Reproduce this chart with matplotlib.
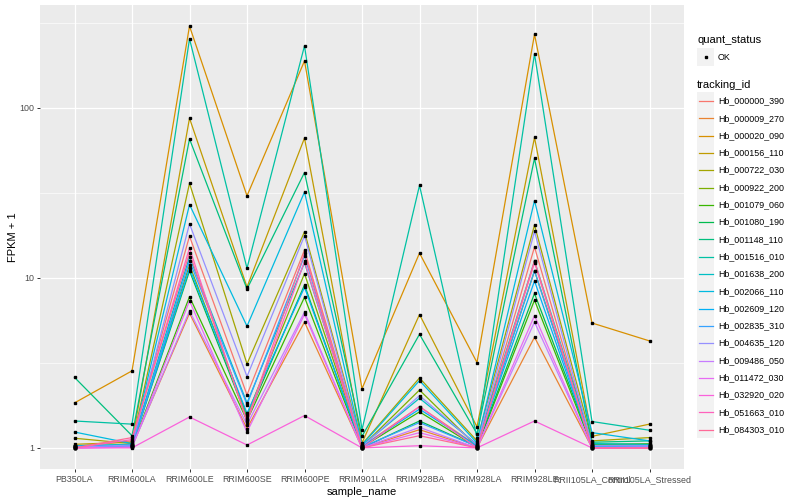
import matplotlib
matplotlib.use("Agg")
import matplotlib.pyplot as plt
import numpy as np
from matplotlib.patches import Rectangle
from matplotlib.lines import Line2D
from matplotlib.ticker import FixedLocator, NullFormatter

plt.rcParams['font.family'] = ['Liberation Sans', 'DejaVu Sans']

sample_names = ["PB350LA", "RRIM600LA", "RRIM600LE", "RRIM600SE", "RRIM600PE",
                "RRIM901LA", "RRIM928BA", "RRIM928LA", "RRIM928LE",
                "RRII105LA_Control", "RRII105LA_Stressed"]

tracking_ids = ["Hb_000000_390", "Hb_000009_270", "Hb_000020_090", "Hb_000156_110",
                "Hb_000722_030", "Hb_000922_200", "Hb_001079_060", "Hb_001080_190",
                "Hb_001148_110", "Hb_001516_010", "Hb_001638_200", "Hb_002066_110",
                "Hb_002609_120", "Hb_002835_310", "Hb_004635_120", "Hb_009486_050",
                "Hb_011472_030", "Hb_032920_020", "Hb_051663_010", "Hb_084303_010"]

# FPKM + 1, one row per tracking_id, columns follow sample_names
fpkm = [
    [1.02, 1.10, 17.6, 2.05, 14.6, 1.02, 1.75, 1.03, 15.2, 1.03, 1.02],
    [1.00, 1.02, 6.2, 1.30, 5.5, 1.00, 1.28, 1.00, 4.48, 1.00, 1.00],
    [1.84, 2.84, 303, 30.4, 189, 2.23, 14.0, 3.18, 271, 5.43, 4.26],
    [1.05, 1.08, 87, 8.84, 66.5, 1.07, 6.09, 1.33, 67, 1.17, 1.38],
    [1.14, 1.06, 36, 3.12, 18.7, 1.05, 2.58, 1.10, 20.5, 1.10, 1.15],
    [1.03, 1.04, 11.9, 1.56, 10.6, 1.02, 2.19, 1.02, 11.0, 1.05, 1.06],
    [1.01, 1.02, 7.75, 1.45, 7.7, 1.01, 1.63, 1.01, 7.4, 1.02, 1.03],
    [1.02, 1.03, 11.0, 1.50, 9.1, 1.00, 1.44, 1.02, 8.1, 1.04, 1.04],
    [2.60, 1.18, 65.7, 8.6, 41.7, 1.17, 4.66, 1.21, 50.5, 1.08, 1.10],
    [1.44, 1.38, 255, 11.4, 232, 1.28, 35, 1.15, 208, 1.43, 1.27],
    [1.03, 1.05, 13.3, 1.84, 12.3, 1.03, 1.96, 1.05, 12.6, 1.06, 1.05],
    [1.24, 1.06, 27, 5.2, 32, 1.04, 2.49, 1.07, 28.5, 1.23, 1.10],
    [1.03, 1.03, 11.4, 1.60, 8.8, 1.02, 1.69, 1.03, 9.6, 1.02, 1.02],
    [1.02, 1.02, 12.6, 1.80, 13.5, 1.01, 1.41, 1.02, 11.0, 1.01, 1.02],
    [1.01, 1.04, 20.8, 2.63, 17.7, 1.02, 2.03, 1.04, 18.8, 1.03, 1.03],
    [1.00, 1.01, 6.4, 1.37, 6.3, 1.00, 1.32, 1.00, 5.5, 1.00, 1.01],
    [1.00, 1.01, 7.33, 1.24, 6.1, 1.00, 1.23, 1.00, 6.0, 1.00, 1.00],
    [1.00, 1.00, 1.52, 1.04, 1.55, 1.00, 1.03, 1.00, 1.44, 1.00, 1.00],
    [1.00, 1.12, 15.0, 1.42, 12.5, 1.00, 1.75, 1.00, 12.3, 1.00, 1.00],
    [1.00, 1.15, 14.0, 1.45, 14.0, 1.00, 1.18, 1.00, 12.6, 1.00, 1.00],
]


def hcl_hex(h, c=100.0, l=65.0):
    # ggplot2 hue_pal colours (polar Luv -> sRGB)
    hr = np.deg2rad(h)
    u, v = c * np.cos(hr), c * np.sin(hr)
    xn, yn, zn = 95.047, 100.0, 108.883
    den = xn + 15 * yn + 3 * zn
    un, vn = 4 * xn / den, 9 * yn / den
    Y = yn * ((l + 16) / 116) ** 3
    up, vp = u / (13 * l) + un, v / (13 * l) + vn
    X = 9 * Y * up / (4 * vp)
    Z = -X / 3 - 5 * Y + 3 * Y / vp
    M = np.array([[3.240479, -1.537150, -0.498535],
                  [-0.969256, 1.875992, 0.041556],
                  [0.055648, -0.204043, 1.057311]])
    rgb = M @ np.array([X, Y, Z]) / 100
    rgb = np.where(rgb <= 0.0031308, 12.92 * rgb, 1.055 * np.abs(rgb) ** (1 / 2.4) - 0.055)
    return tuple(np.clip(rgb, 0, 1))


n = len(tracking_ids)
hues = np.linspace(15, 375, n + 1)[:n]
colors = [hcl_hex(h) for h in hues]

W, H = 800, 500
fig = plt.figure(figsize=(8, 5), dpi=100)
ax = fig.add_axes([40 / W, 1 - 469 / H, 644 / W, 464 / H])
ax.set_facecolor('#EBEBEB')

x = np.arange(len(sample_names))
for vals, col in zip(fpkm, colors):
    ax.plot(x, vals, color=col, lw=0.9, zorder=2)
for vals in fpkm:
    ax.plot(x, vals, 's', color='black', ms=2.1, zorder=3, linestyle='none')

ax.set_yscale('log')
allv = np.log10(np.array(fpkm, dtype=float))
lo, hi = allv.min(), allv.max()
pad = 0.05 * (hi - lo)
ax.set_ylim(10 ** (lo - pad), 10 ** (hi + pad))
ax.set_xlim(-0.6, len(sample_names) - 0.4)

ax.yaxis.set_major_locator(FixedLocator([1, 10, 100]))
ax.set_yticklabels(["1", "10", "100"])
ax.yaxis.set_minor_locator(FixedLocator([10 ** 0.5, 10 ** 1.5, 10 ** 2.5]))
ax.yaxis.set_minor_formatter(NullFormatter())
ax.set_xticks(x)
ax.set_xticklabels(sample_names)

ax.grid(which='major', color='white', lw=0.9)
ax.grid(which='minor', axis='y', color='white', lw=0.45)
ax.set_axisbelow(True)
for s in ax.spines.values():
    s.set_visible(False)
ax.tick_params(axis='both', which='major', length=2.2, width=0.7, color='#333333',
               labelcolor='#4D4D4D', labelsize=6.4, pad=2)
ax.tick_params(axis='y', which='minor', length=0)

ax.set_xlabel("sample_name", fontsize=8, labelpad=2)
ax.set_ylabel("FPKM + 1", fontsize=8, labelpad=1)


def px(xp, yp):
    return xp / W, 1 - yp / H


# legend: quant_status
fig.text(*px(697, 40), "quant_status", fontsize=8, va='center', ha='left')
box = 17.3
bx, by = px(697, 57 + box / 2)
fig.add_artist(Rectangle((bx, by), box / W, box / H, transform=fig.transFigure,
                         facecolor='#F2F2F2', edgecolor='none'))
fig.add_artist(Line2D([px(705.5, 0)[0]], [px(0, 57)[1]], marker='s', color='black',
                      ms=2.1, transform=fig.transFigure))
fig.text(*px(718, 57), "OK", fontsize=6.4, va='center', ha='left')

# legend: tracking_id
fig.text(*px(697, 85), "tracking_id", fontsize=8, va='center', ha='left')
for i, (name, col) in enumerate(zip(tracking_ids, colors)):
    cy = 101 + box * i
    bx, by = px(697, cy + box / 2)
    fig.add_artist(Rectangle((bx, by), box / W, box / H, transform=fig.transFigure,
                             facecolor='#F2F2F2', edgecolor='none'))
    x0, yy = px(698.5, cy)
    x1, _ = px(712.5, cy)
    fig.add_artist(Line2D([x0, x1], [yy, yy], color=col, lw=0.9, transform=fig.transFigure))
    fig.text(*px(718, cy), name, fontsize=6.4, va='center', ha='left')

fig.savefig("out.png", dpi=100)
